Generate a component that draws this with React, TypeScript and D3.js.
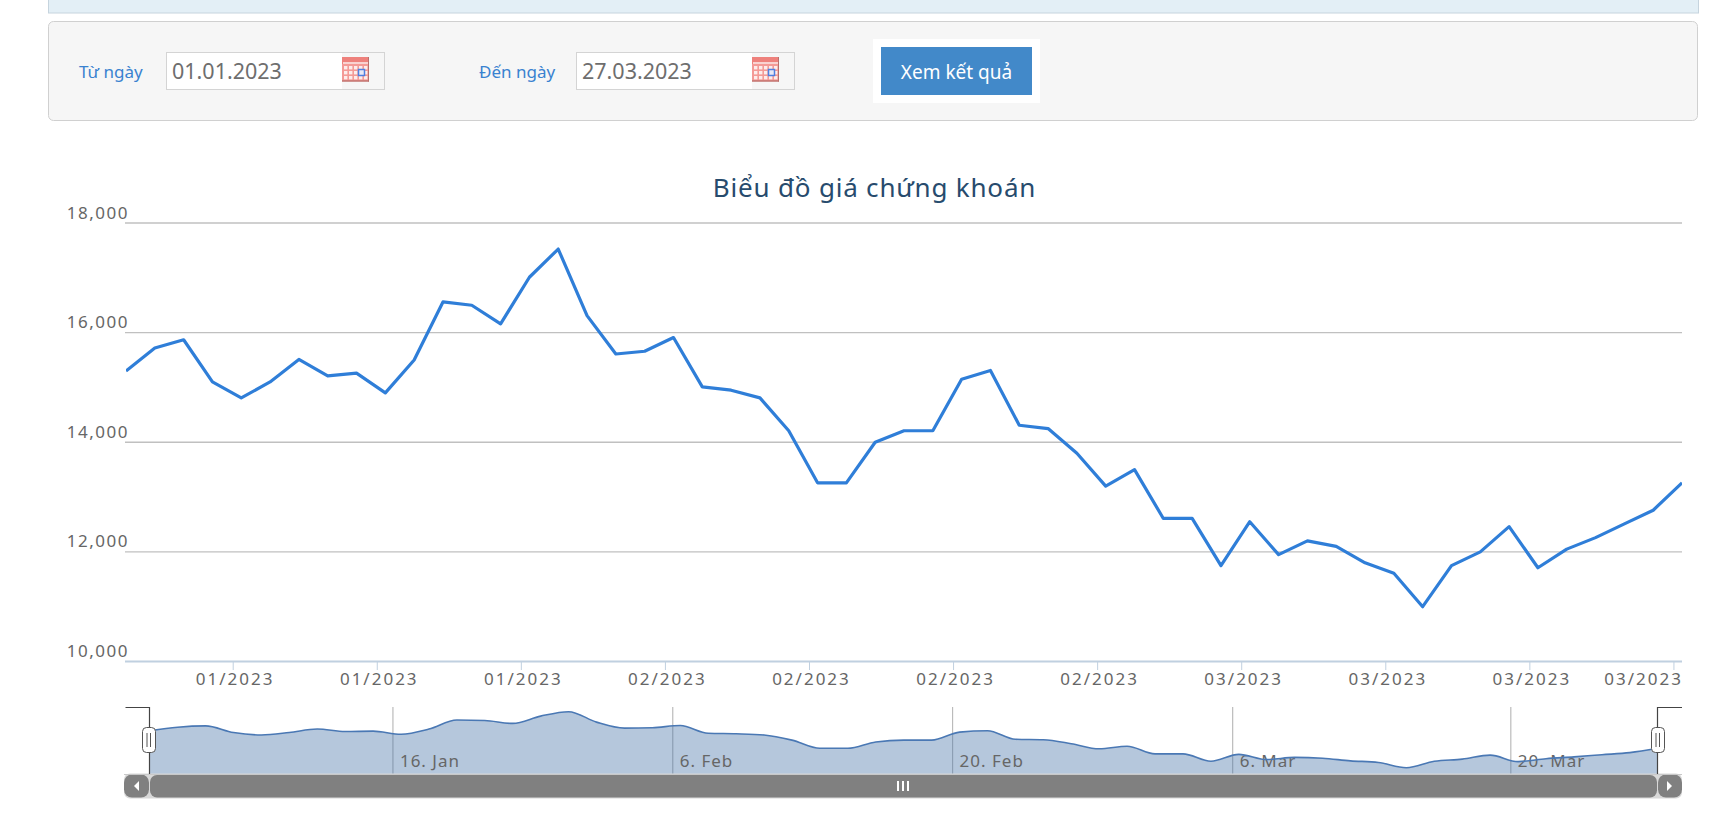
import React, { useEffect, useRef } from "react";
import * as d3 from "d3";

const prices = [15300,15720,15870,15100,14810,15100,15510,15210,15260,14900,15500,16560,16500,16160,17010,17525,16310,15610,15660,15910,15010,14950,14810,14210,13260,13260,14000,14210,14210,15150,15310,14310,14250,13800,13200,13500,12610,12610,11750,12550,11950,12200,12100,11800,11610,11000,11750,12000,12460,11710,12050,12260,12510,12760,13260];
const yTicks = [10000,12000,14000,16000,18000];
const xTickIndex = [3.72,8.72,13.72,18.72,23.72,28.72,33.72,38.72,43.72,48.72,53.72];
const xTickLabels = ["01/2023","01/2023","01/2023","02/2023","02/2023","02/2023","02/2023","03/2023","03/2023","03/2023","03/2023"];
const navTickIndex = [8.71,18.73,28.75,38.78,48.74];
const navTickLabels = ["16. Jan","6. Feb","20. Feb","6. Mar","20. Mar"];
const FONT = "'Noto Sans', 'DejaVu Sans', sans-serif";

function CalendarIcon({ x, y }: { x: number; y: number }) {
  const cols = d3.range(5), rows = d3.range(3);
  return (
    <g transform={`translate(${x},${y})`}>
      <rect x={0} y={0} width={27} height={24.5} fill="#f49a96" />
      <rect x={0} y={0} width={27} height={7} fill="#ee817c" />
      <rect x={1} y={5} width={25} height={2} fill="#f9d2d0" />
      {rows.map(r => cols.map(c => (
        <rect key={`${r}-${c}`} x={2 + c * 5} y={9 + r * 5} width={3.4} height={3.4} fill="#fdeceb" />
      )))}
      <rect x={16.5} y={12.5} width={6} height={6} fill="#e8e8f5" stroke="#4f7fe0" strokeWidth={1.5} />
      <rect x={0} y={23.5} width={27} height={1} fill="#a9605c" />
      <rect x={26} y={0} width={1} height={24.5} fill="#b9706c" />
    </g>
  );
}

function DateField({ x, label, labelX, value }: { x: number; label: string; labelX: number; value: string }) {
  return (
    <g fontFamily={FONT}>
      <text x={labelX} y={77.5} fontSize={17} fill="#3a82d0">{label}</text>
      <rect x={x + 0.5} y={52.5} width={218} height={37} fill="#f6f6f6" stroke="#d4d4d4" />
      <rect x={x + 1} y={53} width={175} height={36} fill="#fff" />
      <text x={x + 6} y={79} fontSize={21.5} fill="#6e6e6e">{value}</text>
      <CalendarIcon x={x + 176} y={57} />
    </g>
  );
}

export default function App() {
  const axisRef = useRef<SVGGElement>(null);

  const x = d3.scaleLinear().domain([0, prices.length - 1]).range([126, 1682]);
  const y = d3.scaleLinear().domain([10000, 18000]).range([661.5, 223]);
  const nx = d3.scaleLinear().domain([0, prices.length - 1]).range([149.7, 1657.7]);
  const ny = d3.scaleLinear().domain([11000, 17525]).range([767.7, 711.7]);

  const line = d3.line<number>().x((_, i) => x(i)).y(d => y(d));
  const navLine = d3.line<number>().x((_, i) => nx(i)).y(d => ny(d)).curve(d3.curveMonotoneX);
  const navArea = d3.area<number>().x((_, i) => nx(i)).y0(774).y1(d => ny(d)).curve(d3.curveMonotoneX);

  useEffect(() => {
    const g = d3.select(axisRef.current);
    g.selectAll("*").remove();
    yTicks.forEach(t => {
      if (t === 10000) return;
      g.append("line").attr("x1", 125).attr("x2", 1682).attr("y1", y(t)).attr("y2", y(t)).attr("stroke", "#c0c0c0").attr("stroke-width", 1.4);
    });
    g.append("line").attr("x1", 125).attr("x2", 1682).attr("y1", y(10000)).attr("y2", y(10000)).attr("stroke", "#c0d0e0").attr("stroke-width", 2);
    yTicks.forEach(t => {
      g.append("text").attr("x", 129).attr("y", y(t) - 4.5).attr("text-anchor", "end")
        .attr("font-family", FONT).attr("font-size", 17).attr("letter-spacing", 1.5).attr("fill", "#666")
        .text(d3.format(",")(t));
    });
    xTickIndex.forEach((t, i) => {
      const px = x(t);
      g.append("line").attr("x1", px).attr("x2", px).attr("y1", 661).attr("y2", 670).attr("stroke", "#c0d0e0");
      const last = i === xTickIndex.length - 1;
      g.append("text").attr("x", last ? 1683 : px + 2).attr("y", 685).attr("text-anchor", last ? "end" : "middle")
        .attr("font-family", FONT).attr("font-size", 17).attr("letter-spacing", 2).attr("fill", "#666")
        .text(xTickLabels[i]);
    });
  }, []);

  return (
    <svg width={1721} height={820} style={{ position: "absolute", left: 0, top: 0, display: "block", background: "#fff" }}>
      <defs>
        <clipPath id="plot"><rect x={126} y={200} width={1556} height={470} /></clipPath>
      </defs>

      <rect x={48.5} y={-5} width={1650} height={18} fill="#e3eff6" stroke="#c6d4de" />
      <rect x={48.5} y={21.5} width={1649} height={99} rx={5} fill="#f6f6f6" stroke="#d0d0d0" />
      <DateField x={166} label="Từ ngày" labelX={79} value="01.01.2023" />
      <DateField x={576} label="Đến ngày" labelX={479} value="27.03.2023" />
      <rect x={873} y={39} width={167} height={64} fill="#fff" />
      <rect x={881} y={47} width={151} height={48} fill="#4289c9" />
      <text x={956.5} y={79} textAnchor="middle" fontFamily={FONT} fontSize={19} fill="#fff">Xem kết quả</text>

      <text x={874.5} y={197} textAnchor="middle" fontFamily={FONT} fontSize={26} letterSpacing={0.8} fill="#274b6d">Biểu đồ giá chứng khoán</text>

      <g ref={axisRef} />
      <path d={line(prices) ?? ""} fill="none" stroke="#2f7ed8" strokeWidth={3.2} strokeLinejoin="round" clipPath="url(#plot)" />

      {navTickIndex.map(t => (
        <line key={t} x1={nx(t)} x2={nx(t)} y1={707} y2={774} stroke="#bbb" strokeWidth={1.2} />
      ))}
      <path d={navArea(prices) ?? ""} fill="#4572a7" fillOpacity={0.4} />
      {navTickIndex.map((t, i) => (
        <text key={t} x={nx(t) + 7} y={767} fontFamily={FONT} fontSize={17} letterSpacing={1} fill="#666">{navTickLabels[i]}</text>
      ))}
      <path d={navLine(prices) ?? ""} fill="none" stroke="#4a78b4" strokeWidth={1.6} />

      <rect x={124} y={773.5} width={1558} height={25} fill="#d8d8d8" rx={6} />
      <rect x={150} y={775} width={1507} height={22.5} rx={7} fill="#808080" />
      <rect x={124} y={774.5} width={25} height={23} rx={8} fill="#808080" />
      <rect x={1658} y={774.5} width={24} height={23} rx={8} fill="#808080" />
      <rect x={124} y={774} width={1558} height={1} fill="#c8c8c8" />
      <path d="M139,781 L139,791 L134,786 Z" fill="#fff" />
      <path d="M1667,781 L1667,791 L1672,786 Z" fill="#fff" />
      <rect x={897} y={781} width={2} height={10} fill="#fff" />
      <rect x={902} y={781} width={2} height={10} fill="#fff" />
      <rect x={907} y={781} width={2} height={10} fill="#fff" />

      <path d="M125.5,707.5 H149.5 V774" fill="none" stroke="#444" strokeWidth={1.2} />
      <path d="M1682,707.5 H1657.5 V774" fill="none" stroke="#444" strokeWidth={1.2} />
      {[149, 1658].map(cx => (
        <g key={cx}>
          <rect x={cx - 6.5} y={727.5} width={13} height={25} rx={4} fill="#fff" stroke="#555" strokeWidth={1} />
          <line x1={cx - 2} x2={cx - 2} y1={733} y2={747} stroke="#555" />
          <line x1={cx + 1.5} x2={cx + 1.5} y1={733} y2={747} stroke="#555" />
        </g>
      ))}
    </svg>
  );
}
